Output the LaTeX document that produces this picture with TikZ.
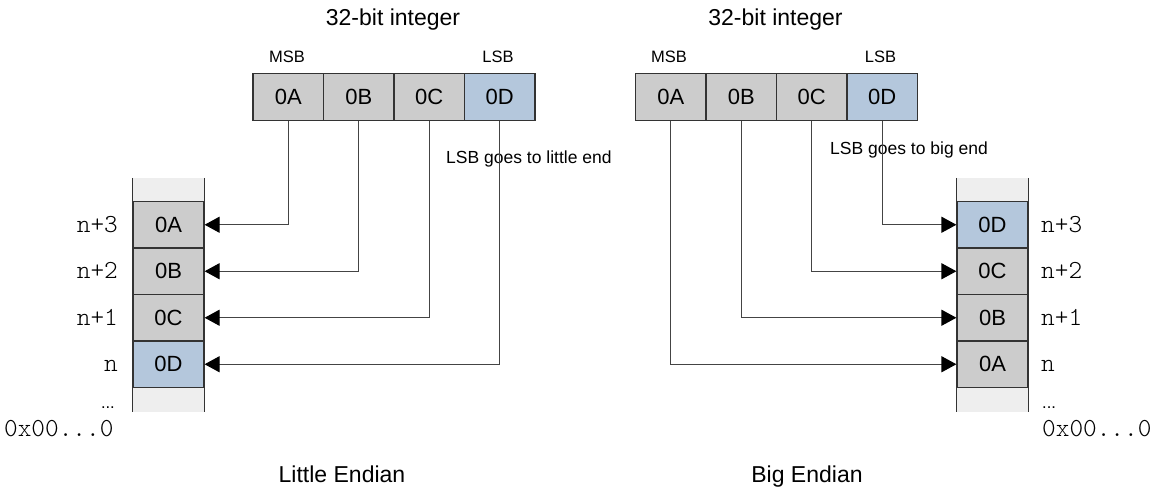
\documentclass[tikz,border=0pt]{standalone}
\usepackage{fontspec}
\setmainfont{Liberation Sans}
\newfontfamily\addrfont{Latin Modern Mono Light}
\usetikzlibrary{arrows.meta}
\definecolor{cellgray}{HTML}{CCCCCC}
\definecolor{cellblue}{HTML}{B4C7DC}
\definecolor{celllight}{HTML}{EEEEEE}
\definecolor{edgecol}{HTML}{333333}
\definecolor{wirecol}{HTML}{444444}
\tikzset{
  reg/.style={draw=edgecol, line width=1.2pt, fill=cellgray, minimum width=70.5pt, minimum height=47pt, inner sep=0pt, font=\fontsize{22}{26}\selectfont},
  regblue/.style={reg, fill=cellblue},
  mem/.style={draw=edgecol, line width=1.2pt, fill=cellgray, minimum width=71pt, minimum height=46.5pt, inner sep=0pt, font=\fontsize{22}{26}\selectfont},
  memblue/.style={mem, fill=cellblue},
  lightcell/.style={fill=celllight, draw=none, minimum width=71pt, minimum height=24pt, inner sep=0pt},
  title/.style={anchor=base, inner sep=0pt, font=\fontsize{23}{27}\selectfont},
  small/.style={anchor=base, inner sep=0pt, font=\fontsize{16.5}{20}\selectfont},
  note/.style={anchor=base west, inner sep=0pt, font=\fontsize{17.5}{21}\selectfont},
  addr/.style={inner sep=0pt, font=\addrfont\fontsize{26}{30}\selectfont},
  wire/.style={draw=wirecol, line width=1.2pt, -{Triangle[length=15pt,width=16pt,color=black]}},
}
\begin{document}
\begin{tikzpicture}[x=1pt,y=-1pt]
\useasboundingbox (0,0) rectangle (1158,495);

% ---------- Little endian ----------
\node[title] (ltitle) at (393,26) {32-bit integer};
\node[small] (lmsb) at (287,63) {MSB};
\node[small] (llsb) at (498,63) {LSB};
\node[reg] (lA) at (288.25,97) {0A};
\node[reg] (lB) at (358.75,97) {0B};
\node[reg] (lC) at (429.25,97) {0C};
\node[regblue] (lD) at (499.75,97) {0D};

\node[lightcell] (ltop) at (168.5,190) {};
\node[lightcell] (lbot) at (168.5,400) {};
\node[mem] (mA) at (168.5,224.75) {0A};
\node[mem] (mB) at (168.5,271.25) {0B};
\node[mem] (mC) at (168.5,317.75) {0C};
\node[memblue] (mD) at (168.5,364.25) {0D};
\draw[edgecol, line width=1.2pt] (ltop.north west) -- (lbot.south west);
\draw[edgecol, line width=1.2pt] (ltop.north east) -- (lbot.south east);

\node[addr, anchor=base east] (la3) at (118,232) {n+3};
\node[addr, anchor=base east] (la2) at (118,278.5) {n+2};
\node[addr, anchor=base east] (la1) at (118,325) {n+1};
\node[addr, anchor=base east] (la0) at (118,371) {n};
\node[small, anchor=base east] (ldots) at (115,408) {...};
\node[addr, anchor=base west] (lzero) at (4,436) {0x00...0};

\node[note] (lnote) at (446,163) {LSB goes to little end};

\draw[wire] (lA.south) |- (mA.east);
\draw[wire] (lB.south) |- (mB.east);
\draw[wire] (lC.south) |- (mC.east);
\draw[wire] (lD.south) |- (mD.east);

\node[title] (lcap) at (342,482) {Little Endian};

% ---------- Big endian ----------
\node[title] (rtitle) at (775.5,26) {32-bit integer};
\node[small] (rmsb) at (669,63) {MSB};
\node[small] (rlsb) at (880.5,63) {LSB};
\node[reg] (rA) at (670.75,97) {0A};
\node[reg] (rB) at (741.25,97) {0B};
\node[reg] (rC) at (811.75,97) {0C};
\node[regblue] (rD) at (882.25,97) {0D};

\node[lightcell] (rtop) at (992.5,190) {};
\node[lightcell] (rbot) at (992.5,400) {};
\node[memblue] (nD) at (992.5,224.75) {0D};
\node[mem] (nC) at (992.5,271.25) {0C};
\node[mem] (nB) at (992.5,317.75) {0B};
\node[mem] (nA) at (992.5,364.25) {0A};
\draw[edgecol, line width=1.2pt] (rtop.north west) -- (rbot.south west);
\draw[edgecol, line width=1.2pt] (rtop.north east) -- (rbot.south east);

\node[addr, anchor=base west] (ra3) at (1041,232) {n+3};
\node[addr, anchor=base west] (ra2) at (1041,278.5) {n+2};
\node[addr, anchor=base west] (ra1) at (1041,325) {n+1};
\node[addr, anchor=base west] (ra0) at (1041,371) {n};
\node[small, anchor=base west] (rdots) at (1042,408) {...};
\node[addr, anchor=base west] (rzero) at (1042,436) {0x00...0};

\node[note] (rnote) at (830,154) {LSB goes to big end};

\draw[wire] (rA.south) |- (nA.west);
\draw[wire] (rB.south) |- (nB.west);
\draw[wire] (rC.south) |- (nC.west);
\draw[wire] (rD.south) |- (nD.west);

\node[title] (rcap) at (807,482) {Big Endian};
\end{tikzpicture}
\end{document}
